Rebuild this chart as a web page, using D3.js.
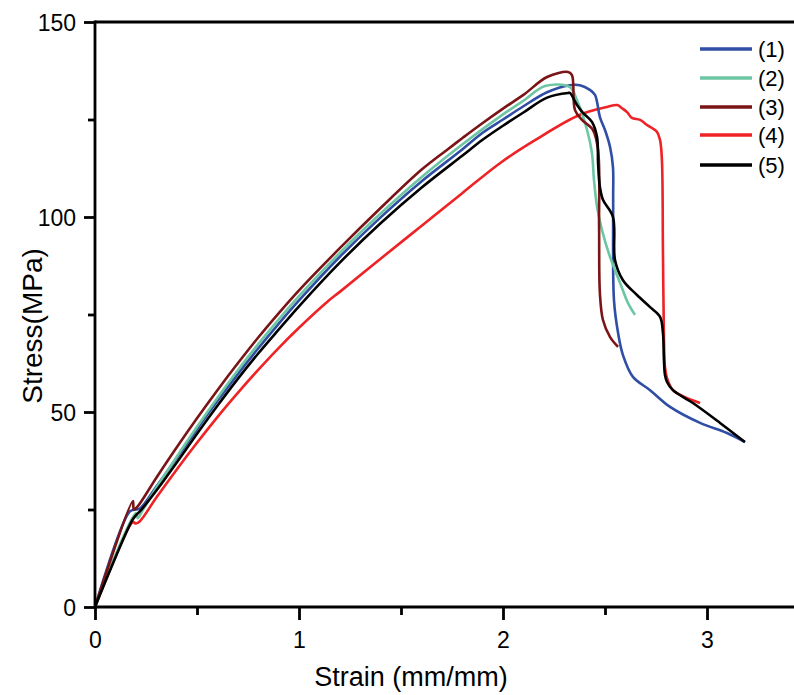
<!DOCTYPE html>
<html><head><meta charset="utf-8">
<script src="https://cdn.jsdelivr.net/npm/d3@7"></script>
<style>body{margin:0;background:#fff}svg{display:block}text{font-family:"Liberation Sans",Arial,sans-serif;fill:#000}</style>
</head><body>
<svg id="c" width="794" height="695"></svg>
<script>
const seriesNames = ["(1)","(2)","(3)","(4)","(5)"];
const seriesColors = ["#2f4ea4","#6dc6a3","#7a1416","#ee2326","#000000"];
const xTicks = [0,1,2,3];
const yTicks = [0,50,100,150];

const s1 = [[0,0],[0.17,24.5],[0.2,25],[0.22,25.2],[0.3,30.8],[0.4,38.2],[0.5,45.6],[0.6,52.8],[0.7,59.7],[0.8,66.3],[0.9,72.6],[1.0,78.6],[1.2,89.8],[1.4,99.9],[1.6,109.1],[1.8,117.3],[1.9,121.6],[2.0,125.0],[2.1,128.4],[2.216,132.0],[2.328,133.8],[2.377,133.8],[2.426,132.6],[2.451,131.3],[2.461,129.5],[2.475,125.6],[2.5,122.3],[2.525,117.9],[2.539,112.8],[2.540,104.4],[2.544,78.7],[2.564,70.3],[2.588,64.6],[2.637,59.0],[2.721,55.6],[2.819,51.3],[2.966,47.2],[3.098,44.6],[3.186,42.3]];
const s2 = [[0,0],[0.2,24],[0.21,22.8],[0.23,24.5],[0.3,30.5],[0.4,38.5],[0.5,46.2],[0.6,53.6],[0.7,60.7],[0.8,67.4],[0.9,73.7],[1.0,79.7],[1.2,90.8],[1.4,100.9],[1.6,110.2],[1.8,118.6],[2.0,126.3],[2.1,129.8],[2.206,133.6],[2.328,133.3],[2.363,129.9],[2.412,122.3],[2.436,116.4],[2.446,109.5],[2.461,102.6],[2.485,96.7],[2.525,89.7],[2.574,83.1],[2.613,77.9],[2.647,74.9]];
const s3 = [[0,0],[0.186,27.2],[0.19,25],[0.206,25.6],[0.3,33.1],[0.4,40.9],[0.5,48.4],[0.6,55.6],[0.7,62.5],[0.8,69.1],[0.9,75.3],[1.0,81.2],[1.2,92.0],[1.4,102.3],[1.6,112.1],[1.725,117.2],[1.8,120.2],[1.887,123.6],[2.0,127.8],[2.1,131.3],[2.216,135.9],[2.319,137.2],[2.338,136.4],[2.353,127.4],[2.387,124.9],[2.441,122.3],[2.466,117.2],[2.471,97.4],[2.475,80.5],[2.49,73.6],[2.525,69.2],[2.564,66.7]];
const s4 = [[0,0],[0.186,21.8],[0.2,21.4],[0.22,22],[0.3,28],[0.4,35.2],[0.5,42.1],[0.6,48.7],[0.7,54.9],[0.8,60.8],[0.9,66.4],[1.0,71.6],[1.142,78.4],[1.2,80.8],[1.4,89.3],[1.6,97.7],[1.8,106.1],[1.985,113.8],[2.157,119.7],[2.377,126.2],[2.51,128.2],[2.56,128.7],[2.583,127.9],[2.608,126.9],[2.632,125.4],[2.672,124.9],[2.706,123.6],[2.755,121.8],[2.77,119.7],[2.779,114.6],[2.784,91.5],[2.789,68.5],[2.794,61.5],[2.804,58.7],[2.833,55.6],[2.892,53.8],[2.966,52.3]];
const s5 = [[0,0],[0.18,22],[0.2,23.5],[0.22,24.5],[0.3,29.8],[0.4,37],[0.5,44.4],[0.6,51.6],[0.7,58.5],[0.8,65.0],[0.9,71.1],[1.0,77.1],[1.2,88.3],[1.4,98.4],[1.6,107.5],[1.8,115.7],[1.9,119.8],[2.0,123.4],[2.1,126.8],[2.216,130.6],[2.319,131.8],[2.328,131.8],[2.363,128.7],[2.392,126.7],[2.436,124.4],[2.461,120.5],[2.466,113.8],[2.475,107.7],[2.49,104.4],[2.539,100],[2.549,89],[2.588,83.8],[2.657,80],[2.721,76.9],[2.77,74.4],[2.784,70.3],[2.789,63.3],[2.794,59.5],[2.804,57.7],[2.833,55.6],[2.931,52.3],[3.064,47.2],[3.186,42.3]];
const allSeries = [s1,s2,s3,s4,s5];

const svg = d3.select("#c");
const L=95, T=22, B=607, R=794;
const x = d3.scaleLinear().domain([0,(R-L)/204]).range([L,R]);
const y = d3.scaleLinear().domain([0,150]).range([B,T]);

const line = d3.line().x(d=>x(d[0])).y(d=>y(d[1])).curve(d3.curveCatmullRom.alpha(0.5));
[3,0,1,2,4].forEach(i=>{
  svg.append("path").attr("d",line(allSeries[i])).attr("fill","none")
    .attr("stroke",seriesColors[i]).attr("stroke-width",2.6).attr("stroke-linejoin","round");
});

// axes
const ax = svg.append("g").attr("stroke","#000").attr("stroke-width",2.8).attr("fill","none");
ax.append("line").attr("x1",L).attr("x2",R).attr("y1",B).attr("y2",B);
ax.append("line").attr("x1",L).attr("x2",R).attr("y1",T).attr("y2",T);
ax.append("line").attr("x1",L).attr("x2",L).attr("y1",T-1.4).attr("y2",B+1.4);

const xAxis = d3.axisBottom(x).tickValues(xTicks).tickSize(13).tickFormat(d3.format("d"));
const gx = svg.append("g").attr("transform",`translate(0,${B})`).call(xAxis);
const xMinor = d3.axisBottom(x).tickValues([0.5,1.5,2.5]).tickSize(8).tickFormat("");
const gxm = svg.append("g").attr("transform",`translate(0,${B})`).call(xMinor);
const yAxis = d3.axisLeft(y).tickValues(yTicks).tickSize(11).tickFormat(d3.format("d"));
const gy = svg.append("g").attr("transform",`translate(${L},0)`).call(yAxis);
const yMinor = d3.axisLeft(y).tickValues([25,75,125]).tickSize(7).tickFormat("");
const gym = svg.append("g").attr("transform",`translate(${L},0)`).call(yMinor);
[gx,gxm,gy,gym].forEach(g=>{
  g.select(".domain").remove();
  g.selectAll(".tick line").attr("stroke","#000").attr("stroke-width",2.8);
  g.selectAll(".tick text").style("font-size","23px").attr("fill","#000");
});
gx.selectAll(".tick text").attr("dy","1.08em");
gy.selectAll(".tick text").attr("x",-19).attr("dy","0.35em");

svg.append("text").attr("x",411).attr("y",686).attr("text-anchor","middle").style("font-size","27px").text("Strain (mm/mm)");
svg.append("text").attr("transform","translate(42,326) rotate(-90)").attr("text-anchor","middle").style("font-size","28px").text("Stress(MPa)");

// legend
const legY = [49,78,107,135,165];
seriesNames.forEach((n,i)=>{
  svg.append("line").attr("x1",700).attr("x2",752).attr("y1",legY[i]).attr("y2",legY[i])
    .attr("stroke",seriesColors[i]).attr("stroke-width",3.5);
  svg.append("text").attr("x",758).attr("y",legY[i]).attr("dy","0.35em").style("font-size","22px").text(n);
});
</script>
</body></html>
